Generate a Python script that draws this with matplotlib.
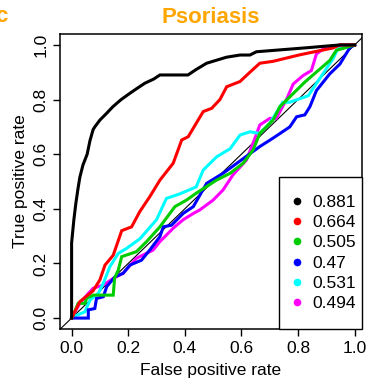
import matplotlib
matplotlib.use("Agg")
import matplotlib.pyplot as plt
from matplotlib.lines import Line2D
from matplotlib.patches import Rectangle

plt.rcParams["font.family"] = ["Liberation Sans", "DejaVu Sans"]

# ROC curves (false positive rate, true positive rate) per model
fpr_black = [0, 0, 0.0, 0.008, 0.015, 0.022, 0.029, 0.04, 0.055, 0.065, 0.076, 0.082, 0.1,
             0.124, 0.146, 0.175, 0.206, 0.23, 0.259, 0.29, 0.312, 0.411, 0.44, 0.477, 0.547,
             0.595, 0.63, 0.653, 0.835, 0.948, 1.0]
tpr_black = [0, 0.10, 0.275, 0.36, 0.42, 0.47, 0.515, 0.56, 0.60, 0.65, 0.69, 0.70, 0.725,
             0.75, 0.774, 0.80, 0.823, 0.84, 0.86, 0.875, 0.89, 0.89, 0.91, 0.933, 0.955,
             0.963, 0.963, 0.975, 0.99, 1.0, 1.0]

fpr_red = [0, 0.029, 0.076, 0.1, 0.118, 0.147, 0.177, 0.212, 0.241, 0.276, 0.312, 0.359, 0.389,
           0.412, 0.465, 0.495, 0.524, 0.548, 0.595, 0.63, 0.665, 0.712, 0.807, 0.924, 0.948, 1.0]
tpr_red = [0, 0.06, 0.10, 0.14, 0.194, 0.23, 0.32, 0.334, 0.39, 0.444, 0.505, 0.567, 0.652,
           0.664, 0.756, 0.768, 0.80, 0.847, 0.866, 0.90, 0.933, 0.94, 0.964, 0.989, 1.0, 1.0]

fpr_green = [0, 0.006, 0.023, 0.047, 0.053, 0.076, 0.112, 0.147, 0.152, 0.165, 0.177, 0.229,
             0.265, 0.312, 0.347, 0.365, 0.406, 0.44, 0.512, 0.56, 0.606, 0.641, 0.665, 0.712,
             0.736, 0.823, 0.912, 0.935, 1.0]
tpr_green = [0, 0.011, 0.054, 0.054, 0.072, 0.084, 0.084, 0.084, 0.147, 0.176, 0.225, 0.243,
             0.28, 0.334, 0.383, 0.408, 0.432, 0.457, 0.505, 0.53, 0.567, 0.615, 0.676, 0.725,
             0.774, 0.863, 0.943, 0.98, 1.0]

fpr_blue = [0, 0.006, 0.059, 0.059, 0.082, 0.088, 0.112, 0.124, 0.153, 0.182, 0.206, 0.247,
            0.276, 0.312, 0.324, 0.353, 0.394, 0.43, 0.477, 0.535, 0.6, 0.665, 0.712, 0.771,
            0.795, 0.824, 0.842, 0.865, 0.912, 0.948, 0.983, 1.0]
tpr_blue = [0, 0.0, 0.0, 0.03, 0.035, 0.072, 0.078, 0.115, 0.151, 0.164, 0.194, 0.212,
            0.249, 0.298, 0.334, 0.34, 0.383, 0.408, 0.493, 0.53, 0.579, 0.628, 0.659, 0.70,
            0.737, 0.744, 0.774, 0.833, 0.894, 0.93, 0.99, 1.0]

fpr_cyan = [0, 0.006, 0.047, 0.065, 0.094, 0.112, 0.135, 0.165, 0.194, 0.241, 0.3, 0.335,
            0.383, 0.44, 0.465, 0.512, 0.56, 0.595, 0.63, 0.665, 0.70, 0.746, 0.77, 0.836,
            0.924, 0.94, 1.0]
tpr_cyan = [0, 0.005, 0.023, 0.066, 0.09, 0.127, 0.188, 0.237, 0.255, 0.29, 0.36, 0.438,
            0.455, 0.48, 0.542, 0.59, 0.62, 0.67, 0.682, 0.676, 0.713, 0.79, 0.79, 0.814,
            0.95, 0.985, 1.0]

fpr_magenta = [0, 0.029, 0.059, 0.076, 0.112, 0.147, 0.182, 0.229, 0.288, 0.312, 0.359,
               0.394, 0.43, 0.453, 0.5, 0.535, 0.57, 0.618, 0.641, 0.665, 0.70, 0.723, 0.759,
               0.783, 0.818, 0.847, 0.865, 0.889, 0.942, 1.0]
tpr_magenta = [0, 0.054, 0.09, 0.109, 0.121, 0.145, 0.164, 0.219, 0.249, 0.28, 0.329,
               0.36, 0.383, 0.396, 0.432, 0.469, 0.524, 0.579, 0.64, 0.707, 0.731, 0.731, 0.80,
               0.857, 0.888, 0.906, 0.967, 0.985, 0.998, 1.0]

auc_labels = ["0.881", "0.664", "0.505", "0.47", "0.531", "0.494"]
colors = ["black", "#FF0000", "#00CD00", "#0000FF", "#00FFFF", "#FF00FF"]
curves = [(fpr_black, tpr_black), (fpr_red, tpr_red), (fpr_green, tpr_green),
          (fpr_blue, tpr_blue), (fpr_cyan, tpr_cyan), (fpr_magenta, tpr_magenta)]
ticks = [0.0, 0.2, 0.4, 0.6, 0.8, 1.0]
tick_labels = ["0.0", "0.2", "0.4", "0.6", "0.8", "1.0"]

FS = 12.5

fig = plt.figure(figsize=(3.67, 3.89), dpi=100)
ax = fig.add_axes([60 / 367, 60 / 389, 302 / 367, 295 / 389])

ax.axline((0, 0), (1, 1), color="black", lw=0.8, zorder=1)
# draw in reverse so the black curve sits on top
for (fx, ty), c in reversed(list(zip(curves, colors))):
    ax.plot(fx, ty, color=c, lw=2.2, solid_joinstyle="miter", zorder=2)

ax.set_xlim(-0.041, 1.026)
ax.set_ylim(-0.04, 1.04)
ax.set_xticks(ticks)
ax.set_xticklabels(tick_labels)
ax.set_yticks(ticks)
ax.set_yticklabels(tick_labels, rotation=90, va="center")
ax.tick_params(direction="out", length=5, width=1, labelsize=FS, pad=3.5)
for s in ax.spines.values():
    s.set_linewidth(1.1)

ax.set_xlabel("False positive rate", fontsize=FS, labelpad=5.5)
ax.set_ylabel("True positive rate", fontsize=FS, labelpad=4)
ax.set_title("Psoriasis", fontsize=16, fontweight="bold", color="#FFA500", pad=8)
fig.text(7 / 367, 1 - 16 / 389, "c", fontsize=16, fontweight="bold", color="#FFA500",
         ha="right", va="center")

# legend box in the lower right corner of the plot region
box_x0 = (279 - 60) / 302
box_h = (329 - 177) / 295
ax.add_patch(Rectangle((box_x0, 0), 1 - box_x0, box_h, transform=ax.transAxes,
                       facecolor="white", edgecolor="black", lw=1.0, zorder=5,
                       clip_on=False))
handles = [Line2D([], [], marker="o", linestyle="", color=c, markersize=4.5) for c in colors]
leg = ax.legend(handles, auc_labels, loc="center", bbox_to_anchor=(box_x0, 0, 1 - box_x0, box_h),
                borderaxespad=0, borderpad=0, frameon=False, fontsize=FS,
                handlelength=1.35, handletextpad=0.2, labelspacing=0.3)
leg.set_zorder(6)

fig.savefig("out.png", dpi=100)
